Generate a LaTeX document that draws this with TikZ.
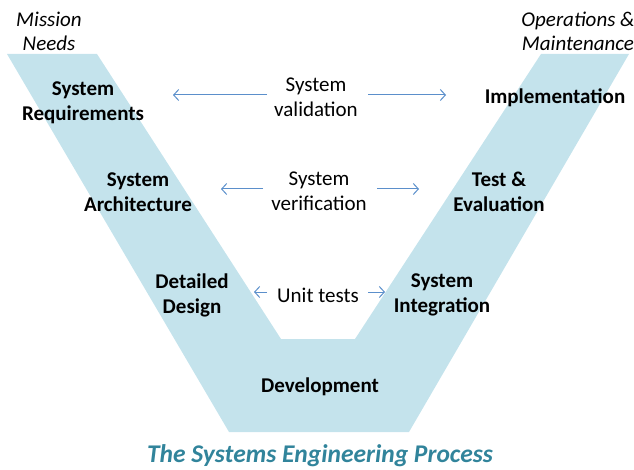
\documentclass[tikz,border=0pt]{standalone}
\usepackage{fontspec}
\setmainfont{Carlito}
\usetikzlibrary{arrows.meta}
\definecolor{vblue}{HTML}{C4E3EC}
\definecolor{arrblue}{HTML}{5B8FCB}
\definecolor{titleteal}{HTML}{31849B}
\tikzset{
  stage/.style={font=\fontsize{21}{25}\selectfont\bfseries, align=center, inner sep=0pt},
  plain/.style={font=\fontsize{21}{25}\selectfont, align=center, inner sep=0pt},
  corner/.style={font=\fontsize{21}{24}\selectfont\itshape, align=center, inner sep=0pt},
  arr/.style={draw=arrblue, line width=1pt, -{Straight Barb[length=5pt,width=11pt]}},
}
\begin{document}
\begin{tikzpicture}[x=1pt,y=-1pt]
\useasboundingbox (0,0) rectangle (634,470);
\fill[vblue] (7,54) -- (97,54) -- (281,339) -- (355,339) -- (541,54) -- (629,54) -- (409,432) -- (229,432) -- cycle;

\node[corner] (mission) at (49,31) {Mission\\Needs};
\node[corner] (ops) at (578,31) {Operations \&\\Maintenance};

\node[stage] (req) at (83,103) {System\\Requirements};
\node[stage] (arch) at (138,192) {System\\Architecture};
\node[stage] (dd) at (192,295) {Detailed\\Design};
\node[stage] (dev) at (320,387) {Development};
\node[stage] (integ) at (442,295) {System\\Integration};
\node[stage] (test) at (499,192) {Test \&\\Evaluation};
\node[stage] (impl) at (555,98) {Implementation};

\node[plain] (val) at (316,97) {System\\validation};
\node[plain] (ver) at (319,191) {System\\verification};
\node[plain] (unit) at (318,295) {Unit tests};

\coordinate (vall) at (267,95);  \coordinate (valtipl) at (173,95);
\coordinate (valr) at (368,95);  \coordinate (valtipr) at (446,95);
\coordinate (verl) at (263,189); \coordinate (vertipl) at (221,189);
\coordinate (verr) at (377,189); \coordinate (vertipr) at (419,189);
\coordinate (unitl) at (267,292); \coordinate (unittipl) at (254,292);
\coordinate (unitr) at (368,292); \coordinate (unittipr) at (385,292);

\draw[arr] (vall) -- (valtipl);
\draw[arr] (valr) -- (valtipr);
\draw[arr] (verl) -- (vertipl);
\draw[arr] (verr) -- (vertipr);
\draw[arr] (unitl) -- (unittipl);
\draw[arr] (unitr) -- (unittipr);

\node[font=\fontsize{25.5}{30}\selectfont\bfseries\itshape, text=titleteal, inner sep=0pt] (title) at (320,456) {The Systems Engineering Process};
\end{tikzpicture}
\end{document}
